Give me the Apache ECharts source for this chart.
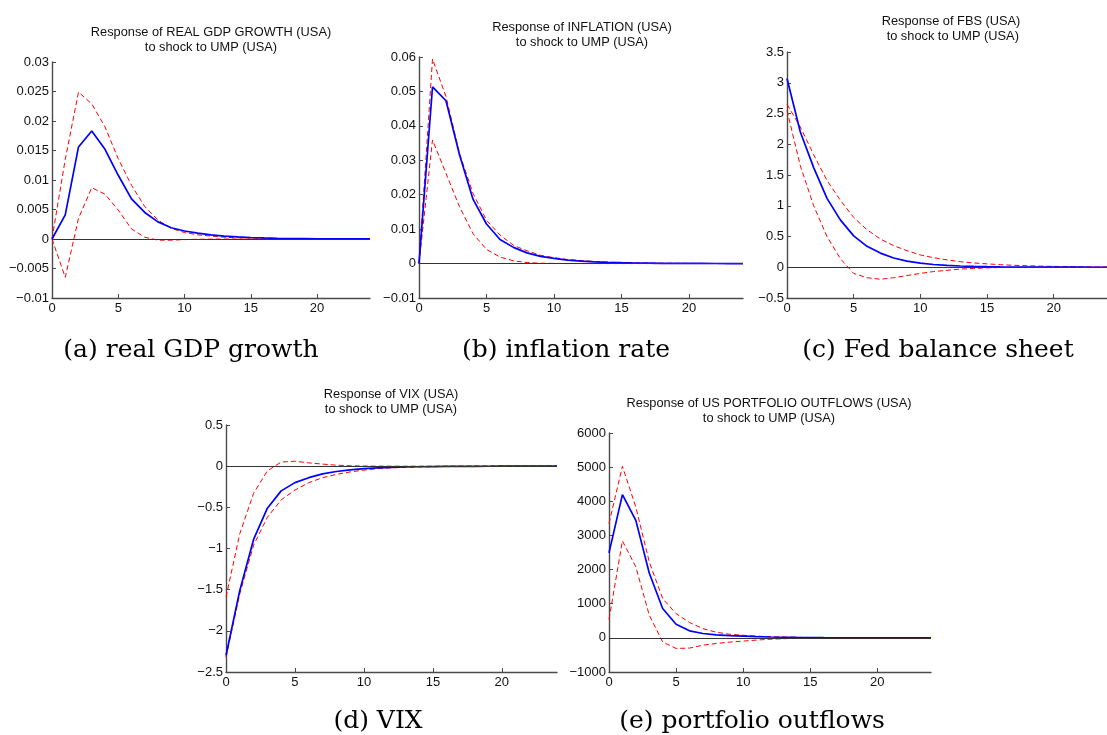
<!DOCTYPE html>
<html>
<head>
<meta charset="utf-8">
<script src="https://cdn.jsdelivr.net/npm/echarts@6/dist/echarts.min.js"></script>
<style>
html,body{margin:0;padding:0;background:#fff;}
#chart{width:1107px;height:735px;}
</style>
</head>
<body>
<div id="chart"></div>
<script>
// ---- data ----
const horizon = [0,1,2,3,4,5,6,7,8,9,10,11,12,13,14,15,16,17,18,19,20,21,22,23,24];
const xTicks = [0,5,10,15,20];

const gdpMean  = [0,0.0041,0.0156,0.0183,0.0152,0.0108,0.0068,0.0045,0.0029,0.0019,0.00135,0.001,0.0007,0.0005,0.00035,0.00025,0.00018,0.00012,0.00008,0.00006,0.00004,0.00003,0.00002,0.00001,0.00001];
const gdpUpper = [0,0.0135,0.0249,0.0229,0.019,0.0136,0.0091,0.0055,0.0032,0.0018,0.0011,0.0007,0.0005,0.0003,0.0002,0.00015,0.0001,0.00007,0.00005,0.00003,0.00002,0.00002,0.00001,0.00001,0];
const gdpLower = [0,-0.0065,0.0035,0.0087,0.0076,0.0049,0.0017,0.0003,-0.0002,-0.0002,-0.0001,-0.00005,-0.00002,0,0,0,0,0,0,0,0,0,0,0,0];

const inflMean  = [0,0.0513,0.0473,0.0316,0.0187,0.0115,0.007,0.0047,0.0031,0.0021,0.0015,0.001,0.0007,0.0005,0.00035,0.00025,0.00017,0.00012,0.00008,0.00006,0.00004,0.00003,0.00002,0.00001,0.00001];
const inflUpper = [0,0.0594,0.0485,0.032,0.0204,0.0126,0.0083,0.0053,0.0037,0.0024,0.0017,0.0012,0.0009,0.0006,0.0004,0.0003,0.0002,0.00015,0.0001,0.00007,0.00005,0.00003,0.00002,0.00002,0.00001];
const inflLower = [0,0.0359,0.0262,0.0165,0.0087,0.0041,0.0019,0.0008,0.0003,0.0001,0.00005,0,0,0,0,0,0,0,0,0,0,0,0,0,0];

const fbsMean  = [3.07,2.2,1.62,1.12,0.77,0.51,0.34,0.23,0.15,0.1,0.068,0.045,0.03,0.02,0.013,0.009,0.006,0.004,0.003,0.002,0.0013,0.0009,0.0006,0.0004,0.0003];
const fbsUpper = [2.65,2.28,1.83,1.41,1.09,0.81,0.61,0.46,0.35,0.27,0.2,0.155,0.12,0.09,0.07,0.055,0.042,0.032,0.025,0.019,0.014,0.011,0.008,0.006,0.005];
const fbsLower = [2.55,1.65,1.0,0.5,0.14,-0.1,-0.17,-0.195,-0.17,-0.135,-0.1,-0.07,-0.05,-0.03,-0.02,-0.01,-0.005,-0.002,0,0,0,0,0,0,0];

const vixMean  = [-2.3,-1.51,-0.89,-0.51,-0.3,-0.2,-0.14,-0.093,-0.065,-0.045,-0.03,-0.02,-0.014,-0.01,-0.007,-0.005,-0.003,-0.002,-0.0015,-0.001,-0.0007,-0.0005,-0.0003,-0.0002,-0.0001];
const vixUpper = [-1.59,-0.82,-0.33,-0.057,0.05,0.06,0.04,0.025,0.012,0.005,0.002,0,0,0,0,0,0,0,0,0,0,0,0,0,0];
const vixLower = [-2.32,-1.55,-0.96,-0.62,-0.41,-0.29,-0.2,-0.14,-0.1,-0.07,-0.048,-0.03,-0.02,-0.013,-0.009,-0.006,-0.004,-0.002,-0.001,0,0,0,0,0,0];

const outMean  = [2490,4195,3440,1900,860,400,205,127,90,65,50,35,25,18,12,8,5,3,2,1,1,0,0,0,0];
const outUpper = [3350,5025,3830,2225,1150,710,450,270,165,105,75,50,35,25,15,10,6,4,3,2,1,1,0,0,0];
const outLower = [540,2840,2080,665,-120,-310,-300,-215,-165,-125,-95,-65,-40,-25,-12,-5,0,0,0,0,0,0,0,0,0];

const titles = [
  'Response of REAL GDP GROWTH (USA)\nto shock to UMP (USA)',
  'Response of INFLATION (USA)\nto shock to UMP (USA)',
  'Response of FBS (USA)\n to shock to UMP (USA)',
  'Response of VIX (USA)\nto shock to UMP (USA)',
  'Response of US PORTFOLIO OUTFLOWS (USA)\nto shock to UMP (USA)'
];
const captions = ['(a) real GDP growth','(b) inflation rate','(c) Fed balance sheet','(d) VIX','(e) portfolio outflows'];

const yMin = [-0.01,-0.01,-0.5,-2.5,-1000];
const yMax = [0.03,0.06,3.5,0.5,6000];
const yStep = [0.005,0.01,0.5,0.5,1000];

const panels = [
  [gdpMean, gdpUpper, gdpLower],
  [inflMean, inflUpper, inflLower],
  [fbsMean, fbsUpper, fbsLower],
  [vixMean, vixUpper, vixLower],
  [outMean, outUpper, outLower]
];

// ---- layout ----
const grids = [
  {left:52, top:62, width:318, height:236},
  {left:419, top:57, width:324, height:241},
  {left:787, top:52, width:329, height:246},
  {left:226, top:425, width:331, height:247},
  {left:609, top:433, width:322, height:239}
];
const titlePos = [[211,24.5],[582,19.5],[951,13.5],[391,387],[769,396]];
const capPos = [[191,350],[566,350],[938,350],[378,721],[752,721]];

const axisColor = '#4a4a4a';
const fmt = v => {
  const s = String(parseFloat(Number(v).toPrecision(6)));
  return s.replace('-', '\u2212');
};
const sans = '"Liberation Sans", Arial, sans-serif';

const xAxes = [], yAxes = [], series = [], graphics = [];
grids.forEach((g, i) => {
  xAxes.push({
    type:'value', gridIndex:i, min:0, max:24,
    axisLine:{show:true, onZero:false, lineStyle:{color:axisColor, width:1.4}},
    axisTick:{show:true, inside:true, length:4, customValues:xTicks, lineStyle:{color:axisColor}},
    axisLabel:{customValues:xTicks, color:'#111', fontSize:13, fontFamily:sans, margin:4},
    splitLine:{show:false}
  });
  yAxes.push({
    type:'value', gridIndex:i, min:yMin[i], max:yMax[i], interval:yStep[i],
    axisLine:{show:true, onZero:false, lineStyle:{color:axisColor, width:1.4}},
    axisTick:{show:true, inside:true, length:4, lineStyle:{color:axisColor}},
    axisLabel:{color:'#111', fontSize:13, fontFamily:sans, margin:3, formatter:fmt},
    splitLine:{show:false}
  });
  const [m, up, lo] = panels[i];
  const pairs = arr => horizon.map((h, k) => [h, arr[k]]);
  series.push({
    type:'line', xAxisIndex:i, yAxisIndex:i, data:pairs(up), showSymbol:false, silent:true,
    lineStyle:{color:'#ff0000', width:1, type:[5,3]}, z:3,
    markLine:{silent:true, symbol:'none', label:{show:false}, animation:false,
      lineStyle:{color:'#333', width:1, type:'solid'}, data:[{yAxis:0}]}
  });
  series.push({
    type:'line', xAxisIndex:i, yAxisIndex:i, data:pairs(lo), showSymbol:false, silent:true,
    lineStyle:{color:'#ff0000', width:1, type:[5,3]}, z:3
  });
  series.push({
    type:'line', xAxisIndex:i, yAxisIndex:i, data:pairs(m), showSymbol:false, silent:true,
    lineStyle:{color:'#0000ff', width:1.7}, z:4
  });
  graphics.push({
    type:'text', x:titlePos[i][0], y:titlePos[i][1],
    style:{text:titles[i], textAlign:'center', textVerticalAlign:'top', fill:'#111',
      fontSize:12.8, fontFamily:sans, lineHeight:15}
  });
  graphics.push({
    type:'text', x:capPos[i][0], y:capPos[i][1],
    style:{text:captions[i], textAlign:'center', textVerticalAlign:'middle', fill:'#000',
      fontSize:25, fontFamily:'"DejaVu Serif", serif'}
  });
});

const chart = echarts.init(document.getElementById('chart'), null, {renderer:'canvas'});
chart.setOption({
  animation:false,
  backgroundColor:'#fff',
  grid: grids,
  xAxis: xAxes,
  yAxis: yAxes,
  series: series,
  graphic: graphics
});
</script>
</body>
</html>
